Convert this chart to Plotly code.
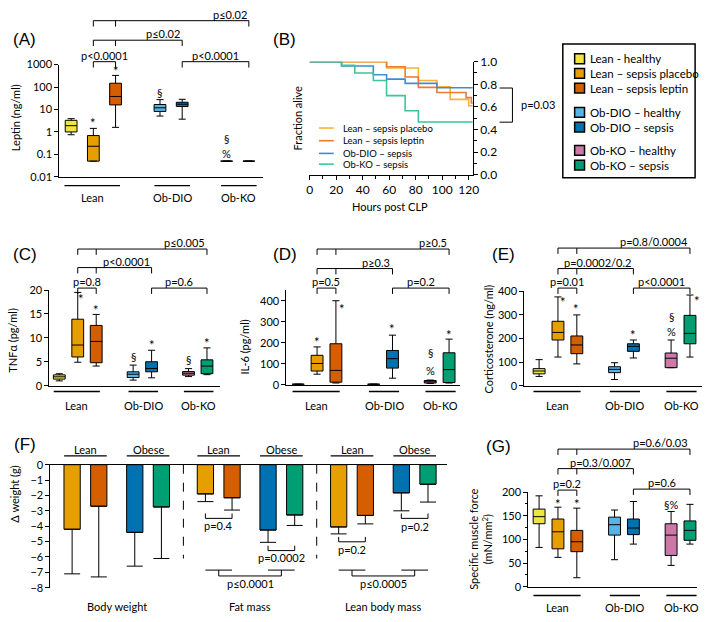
import plotly.graph_objects as go

W, H = 709, 622
FONT = "Lato, 'Open Sans', sans-serif"
PFONT = "'Liberation Sans', Arial, sans-serif"

# ---------------- data ----------------
groups = ["Lean - healthy", "Lean – sepsis placebo", "Lean – sepsis leptin",
          "Ob-DIO – healthy", "Ob-DIO – sepsis", "Ob-KO – healthy", "Ob-KO – sepsis"]
group_colors = ["#F0E442", "#E69F00", "#D55E00", "#56B4E9", "#0072B2", "#CC79A7", "#009E73"]
positions = [0, 1, 2, 4, 5, 7, 8]
cohorts = ["Lean", "Ob-DIO", "Ob-KO"]

# (A) Leptin (ng/ml)
leptin_q1 = [1.0, 0.05, 16.0, 8.2, 13.6, 0.05, 0.05]
leptin_med = [1.9, 0.23, 38.0, 11.9, 17.2, 0.05, 0.05]
leptin_q3 = [3.3, 0.69, 148.0, 16.7, 21.0, 0.05, 0.05]
leptin_lo = [0.75, 0.05, 1.6, 5.1, 3.7, 0.05, 0.05]
leptin_hi = [3.9, 1.44, 330.0, 27.5, 28.5, 0.05, 0.05]

# (C) TNFa (pg/ml)
tnf_q1 = [1.37, 6.0, 4.8, 1.7, 2.9, 2.2, 2.5]
tnf_med = [1.85, 8.5, 9.25, 2.4, 3.6, 2.6, 4.1]
tnf_q3 = [2.26, 13.9, 12.6, 2.9, 5.0, 2.95, 5.4]
tnf_lo = [1.0, 4.9, 4.1, 1.16, 1.64, 1.9, 2.3]
tnf_hi = [2.5, 19.5, 14.9, 4.3, 7.4, 3.56, 7.9]

# (D) IL-6 (pg/ml)
il6_q1 = [1, 65, 12, 1, 79, 8, 10]
il6_med = [2, 101, 68, 2, 124, 14, 72]
il6_q3 = [3, 140, 195, 3, 163, 20, 152]
il6_lo = [1, 50, 8, 1, 31, 6, 8]
il6_hi = [3, 180, 400, 3, 236, 22, 217]

# (E) Corticosterone (ng/ml)
cort_q1 = [50, 193, 135, 55, 145, 76, 177]
cort_med = [62, 225, 172, 69, 166, 116, 221]
cort_q3 = [72, 272, 210, 80, 177, 138, 297]
cort_lo = [39, 121, 92, 26, 117, 76, 121]
cort_hi = [110, 375, 299, 97, 193, 193, 383]

# (G) Specific muscle force (mN/mm2)
force_q1 = [133, 80, 74, 109, 110, 66, 98]
force_med = [148, 116, 95, 131, 124, 109, 119]
force_q3 = [164, 143, 119, 147, 143, 133, 139]
force_lo = [83, 62, 19, 57, 90, 45, 90]
force_hi = [192, 168, 166, 162, 180, 159, 174]

# (B) Kaplan-Meier survival
surv_hours_placebo = [0, 58, 82, 96, 106, 120, 123]
surv_placebo = [1.0, 0.944, 0.833, 0.778, 0.667, 0.611, 0.611]
surv_hours_leptin = [0, 58, 72, 82, 96, 118, 122, 123]
surv_leptin = [1.0, 0.955, 0.864, 0.773, 0.727, 0.682, 0.636, 0.636]
surv_hours_dio = [0, 24, 48, 58, 72, 96, 123]
surv_dio = [1.0, 0.962, 0.885, 0.846, 0.808, 0.769, 0.769]
surv_hours_ko = [0, 24, 34, 48, 58, 72, 82, 123]
surv_ko = [1.0, 0.967, 0.9, 0.833, 0.7, 0.567, 0.467, 0.467]
surv_names = ["Lean – sepsis placebo", "Lean – sepsis leptin", "Ob-DIO – sepsis", "Ob-KO – sepsis"]
surv_colors = ["#F5B335", "#EC7A30", "#3C8ED4", "#3EC49C"]

# (F) weight change (g)
f_categories = ["Body weight", "Fat mass", "Lean body mass"]
f_pair_labels = ["Lean", "Obese"]
f_mean = [-4.2, -2.7, -4.4, -2.75, -1.9, -2.15, -4.25, -3.27, -4.05, -3.3, -1.83, -1.27]
f_err = [2.9, 4.6, 2.2, 3.35, 0.5, 0.8, 0.8, 0.68, 0.45, 0.55, 1.17, 1.16]
f_colors = ["#E69F00", "#D55E00", "#0072B2", "#009E73"] * 3
f_pos = [0, 1, 2.35, 3.35, 5, 6, 7.35, 8.35, 10, 11, 12.35, 13.35]

# ---------------- helpers ----------------
def X(p):
    return p / W

def Y(p):
    return 1 - p / H

shapes = []
annotations = []

def text(x, y, s, size=11, xref="paper", yref="paper", xanchor="center", yanchor="middle",
         font=FONT, angle=0):
    annotations.append(dict(x=x, y=y, text=s, xref=xref, yref=yref, xanchor=xanchor,
                            yanchor=yanchor, showarrow=False, textangle=angle,
                            font=dict(family=font, size=size, color="black")))

def line(x0, y0, x1, y1, xref="paper", yref="paper", width=1, dash="solid", color="black"):
    shapes.append(dict(type="line", x0=x0, y0=y0, x1=x1, y1=y1, xref=xref, yref=yref,
                       line=dict(color=color, width=width, dash=dash)))

fig = go.Figure()

def add_boxes(xa, ya, q1, med, q3, lo, hi, width):
    for i in range(len(groups)):
        fig.add_trace(go.Box(x=[positions[i]], q1=[q1[i]], median=[med[i]], q3=[q3[i]],
                             lowerfence=[lo[i]], upperfence=[hi[i]], orientation="v",
                             fillcolor=group_colors[i], line=dict(color="black", width=1),
                             width=width, whiskerwidth=0.6, boxpoints=False,
                             xaxis=xa, yaxis=ya, showlegend=False, hoverinfo="skip",
                             name=groups[i]))

def bracket(xref, ticks, yline, label, align, tick=6):
    x0, x1 = min(ticks), max(ticks)
    line(x0, Y(yline), x1, Y(yline), xref=xref)
    for t in ticks:
        line(t, Y(yline), t, Y(yline + tick), xref=xref)
    if align == "c":
        text((x0 + x1) / 2, Y(yline - 6.5), label, xref=xref)
    else:
        text(x1, Y(yline - 6.5), label, xref=xref, xanchor="right")

cohort_span = [(-0.3, 2.2), (3.75, 5.35), (6.75, 8.35)]

def cohort_labels(xref, yline, ylab):
    for (a, b), name in zip(cohort_span, cohorts):
        line(a, Y(yline), b, Y(yline), xref=xref, width=1.3)
        text((a + b) / 2, Y(ylab), name, xref=xref, size=11)

def marks(xref, yref, items, log=False):
    import math
    for (xp, yv, s) in items:
        yy = math.log10(yv) if log else yv
        text(xp, yy, s, xref=xref, yref=yref, size=13 if s == "*" else 11)

# ---------------- axes layout ----------------
def xdom(a, b):
    return [a / W, b / W]

def ydom(top, bottom):
    return [1 - bottom / H, 1 - top / H]

def xr(a, b, origin, unit):
    return [(a - origin) / unit, (b - origin) / unit]

xbase = dict(showline=True, linecolor="black", linewidth=1, ticks="", showticklabels=False,
             showgrid=False, zeroline=False)
ybase = dict(showline=True, linecolor="black", linewidth=1, ticks="outside", ticklen=4,
             tickcolor="black", tickfont=dict(family=FONT, size=11, color="black"),
             showgrid=False, zeroline=False)

layout_axes = {}
# A
layout_axes["xaxis"] = dict(xbase, domain=xdom(57, 263), range=xr(57, 263, 69, 22.5), anchor="y")
layout_axes["yaxis"] = dict(ybase, domain=ydom(58, 173), type="log", range=[-2, 3], anchor="x",
                            tickvals=[0.01, 0.1, 1, 10, 100, 1000],
                            ticktext=["0.01", "0.1", "1", "10", "100", "1000"])
# B
layout_axes["xaxis2"] = dict(showline=True, linecolor="black", linewidth=1, ticks="outside",
                             ticklen=4, tickcolor="black", showgrid=False, zeroline=False,
                             domain=xdom(310, 476), range=[-0.5, 123.2], anchor="y2",
                             tickvals=[0, 20, 40, 60, 80, 100, 120],
                             tickfont=dict(family=FONT, size=12, color="black"),
                             minor=dict(dtick=10, tick0=0, ticks="outside", ticklen=3, tickcolor="black"))
layout_axes["yaxis2"] = dict(showline=True, linecolor="black", linewidth=1, ticks="outside",
                             ticklen=4, tickcolor="black", showgrid=False, zeroline=False,
                             domain=ydom(55, 171), range=[0, 1], anchor="x2", side="right",
                             tickvals=[0, 0.2, 0.4, 0.6, 0.8, 1.0], tickformat=".1f",
                             tickfont=dict(family=FONT, size=12, color="black"),
                             minor=dict(dtick=0.1, tick0=0, ticks="outside", ticklen=3, tickcolor="black"))
# C
layout_axes["xaxis3"] = dict(xbase, domain=xdom(47, 220), range=xr(47, 220, 57, 18.7), anchor="y3")
layout_axes["yaxis3"] = dict(ybase, domain=ydom(289, 387), range=[0, 20], anchor="x3",
                             tickvals=[0, 5, 10, 15, 20])
# D
layout_axes["xaxis4"] = dict(xbase, domain=xdom(287, 463), range=xr(287, 463, 299, 19.1), anchor="y4")
layout_axes["yaxis4"] = dict(ybase, domain=ydom(289, 386), range=[0, 451], anchor="x4",
                             tickvals=[0, 100, 200, 300, 400])
# E
layout_axes["xaxis5"] = dict(xbase, domain=xdom(528, 708), range=xr(528, 708, 543, 19.1), anchor="y5")
layout_axes["yaxis5"] = dict(ybase, domain=ydom(290, 387), range=[0, 400], anchor="x5",
                             tickvals=[0, 100, 200, 300, 400])
# F
layout_axes["xaxis6"] = dict(xbase, domain=xdom(48, 450), range=xr(48, 450, 70, 27), anchor="y6",
                             side="top")
layout_axes["yaxis6"] = dict(ybase, domain=ydom(468, 594), range=[-8, 0], anchor="x6",
                             tickvals=list(range(-8, 1)))
# G
layout_axes["xaxis7"] = dict(xbase, domain=xdom(532, 703), range=xr(532, 703, 543, 19.1), anchor="y7")
layout_axes["yaxis7"] = dict(ybase, domain=ydom(496, 593), range=[0, 200], anchor="x7",
                             tickvals=[0, 50, 100, 150, 200],
                             minor=dict(dtick=25, tick0=0, ticks="outside", ticklen=2, tickcolor="black"))

# ---------------- (A) ----------------
add_boxes("x", "y", leptin_q1, leptin_med, leptin_q3, leptin_lo, leptin_hi, 0.53)
text(X(22), Y(32), "(A)", size=17, font=PFONT)
text(X(12), Y(112), "Leptin (ng/ml)", size=11, angle=-90)
cohort_labels("x", 182, 194)
marks("x", "y", [(1, 2.4, "*"), (2, 510, "*"), (4, 57, "§"), (7, 0.52, "§"), (7, 0.115, "%")], log=True)
bracket("x", [1, 2], 55, "p<0.0001", "c")
bracket("x", [5, 8], 55, "p<0.0001", "c")
bracket("x", [1, 2, 5], 33, "p≤0.02", "r")
bracket("x", [1, 2, 8], 13, "p≤0.02", "r")

# ---------------- (B) ----------------
for hrs, s, nm, col in zip([surv_hours_placebo, surv_hours_leptin, surv_hours_dio, surv_hours_ko],
                           [surv_placebo, surv_leptin, surv_dio, surv_ko], surv_names, surv_colors):
    fig.add_trace(go.Scatter(x=hrs, y=s, mode="lines", line=dict(color=col, width=1.6, shape="hv"),
                             xaxis="x2", yaxis="y2", showlegend=False, hoverinfo="skip", name=nm))
text(X(285), Y(32), "(B)", size=17, font=PFONT)
text(X(298), Y(113), "Fraction alive", size=11, angle=-90)
text(X(392), Y(203), "Hours post CLP", size=11)
for yy, nm, col in zip([123, 136, 149, 160], surv_names, surv_colors):
    line(X(320), Y(yy), X(335), Y(yy), color=col, width=1.6)
    text(X(342), Y(yy), nm, size=9.5, xanchor="left")
# p=0.03 bracket
line(X(503), Y(82), X(516), Y(82))
line(X(503), Y(117), X(516), Y(117))
line(X(516), Y(82), X(516), Y(117))
text(X(523), Y(99), "p=0.03", size=11, xanchor="left")

# right legend
shapes.append(dict(type="rect", x0=X(567), y0=Y(37), x1=X(701), y1=Y(174), xref="paper", yref="paper",
                   line=dict(color="black", width=1.5), fillcolor="rgba(0,0,0,0)"))
for yy, nm, col in zip([52, 67, 82, 107, 122, 146, 161], groups, group_colors):
    shapes.append(dict(type="rect", x0=X(579), y0=Y(yy - 5), x1=X(589), y1=Y(yy + 5),
                       xref="paper", yref="paper", line=dict(color="black", width=1.5), fillcolor=col))
    text(X(593), Y(yy), nm, size=11.5, xanchor="left")

# ---------------- (C) ----------------
add_boxes("x3", "y3", tnf_q1, tnf_med, tnf_q3, tnf_lo, tnf_hi, 0.64)
text(X(22), Y(253), "(C)", size=17, font=PFONT)
text(X(10), Y(340), "TNFα (pg/ml)", size=11, angle=-90)
cohort_labels("x3", 393, 407)
marks("x3", "y3", [(1.2, 18.2, "*"), (2, 15.9, "*"), (4, 6.1, "§"), (5, 8.6, "*"), (7, 5.5, "§"), (8, 9.0, "*")])
bracket("x3", [1, 2], 287, "p=0.8", "c")
bracket("x3", [5, 8], 287, "p=0.6", "c")
bracket("x3", [1, 2, 5], 266, "p<0.0001", "r")
bracket("x3", [1, 2, 8], 247, "p≤0.005", "r")

# ---------------- (D) ----------------
add_boxes("x4", "y4", il6_q1, il6_med, il6_q3, il6_lo, il6_hi, 0.63)
text(X(286), Y(253), "(D)", size=17, font=PFONT)
text(X(245), Y(347), "IL-6 (pg/ml)", size=11, angle=-90)
cohort_labels("x4", 393, 407)
marks("x4", "y4", [(1, 205, "*"), (2.3, 363, "*"), (5, 265, "*"), (7, 152, "§"), (7, 68, "%"), (8, 237, "*")])
bracket("x4", [1, 2], 287, "p=0.5", "c")
bracket("x4", [5, 8], 287, "p=0.2", "c")
bracket("x4", [1, 2, 5], 267, "p≥0.3", "r")
bracket("x4", [1, 2, 8], 247, "p≥0.5", "r")

# ---------------- (E) ----------------
add_boxes("x5", "y5", cort_q1, cort_med, cort_q3, cort_lo, cort_hi, 0.63)
text(X(507), Y(253), "(E)", size=17, font=PFONT)
text(X(492), Y(339), "Corticosterone (ng/ml)", size=11, angle=-90)
cohort_labels("x5", 393, 407)
marks("x5", "y5", [(1.26, 355, "*"), (1.94, 325, "*"), (5, 214, "*"), (7, 292, "§"), (7, 229, "%"), (8.38, 359, "*")])
bracket("x5", [1, 2], 287, "p=0.01", "c")
bracket("x5", [5, 8], 287, "p<0.0001", "c")
bracket("x5", [1, 2, 5], 267, "p=0.0002/0.2", "r")
bracket("x5", [1, 2, 8], 246, "p=0.8/0.0004", "r")

# ---------------- (F) ----------------
fig.add_trace(go.Bar(x=f_pos, y=f_mean, marker=dict(color=f_colors, line=dict(color="black", width=1)),
                     width=0.61, xaxis="x6", yaxis="y6", showlegend=False, hoverinfo="skip",
                     error_y=dict(type="data", symmetric=False, array=[0] * len(f_err), arrayminus=f_err,
                                  color="black", thickness=1, width=8)))
text(X(22), Y(447), "(F)", size=17, font=PFONT)
text(X(12), Y(498), "Δ weight (g)", size=11, angle=-90)
for k in range(6):
    a, b = f_pos[2 * k], f_pos[2 * k + 1]
    line(a - 0.3, Y(459), b + 0.3, Y(459), xref="x6", width=1.3)
    text((a + b) / 2, Y(452), f_pair_labels[k % 2], xref="x6", size=11)
for c in range(3):
    mid = (f_pos[4 * c] + f_pos[4 * c + 3]) / 2
    text(mid, Y(613), f_categories[c], xref="x6", size=11)
for c in range(2):
    xd = (f_pos[4 * c + 3] + f_pos[4 * c + 4]) / 2
    line(xd, 0, xd, -6.1, xref="x6", yref="y6", dash="dash")

def up_bracket(i, j, yline, label, ytext):
    a, b = f_pos[i], f_pos[j]
    line(a, Y(yline), b, Y(yline), xref="x6")
    line(a, Y(yline), a, Y(yline - 5), xref="x6")
    line(b, Y(yline), b, Y(yline - 5), xref="x6")
    text((a + b) / 2, Y(ytext), label, xref="x6", size=11)

up_bracket(4, 5, 523, "p=0.4", 530)
up_bracket(6, 7, 556, "p=0.0002", 563)
up_bracket(8, 9, 547, "p=0.2", 555)
up_bracket(10, 11, 523, "p=0.2", 531)

def combo_bracket(i, j, k, l, label):
    a1, a2, b1, b2 = f_pos[i], f_pos[j], f_pos[k], f_pos[l]
    line(a1, Y(576), a2, Y(576), xref="x6")
    line(b1, Y(576), b2, Y(576), xref="x6")
    m1, m2 = (a1 + a2) / 2, (b1 + b2) / 2
    line(m1, Y(576), m1, Y(582), xref="x6")
    line(m2, Y(576), m2, Y(582), xref="x6")
    line(m1, Y(582), m2, Y(582), xref="x6")
    text((m1 + m2) / 2, Y(590), label, xref="x6", size=11)

combo_bracket(4, 5, 6, 7, "p≤0.0001")
combo_bracket(8, 9, 10, 11, "p≤0.0005")

# ---------------- (G) ----------------
add_boxes("x7", "y7", force_q1, force_med, force_q3, force_lo, force_hi, 0.63)
text(X(502), Y(449), "(G)", size=17, font=PFONT)
text(X(484), Y(544), "Specific muscle force<br>(mN/mm<sup>2</sup>)", size=11, angle=-90)
cohort_labels("x7", 602, 614)
marks("x7", "y7", [(1, 175, "*"), (2, 175, "*"), (7, 173, "§%")])
bracket("x7", [1, 2], 494, "p=0.2", "c")
bracket("x7", [5, 8], 493, "p=0.6", "c")
bracket("x7", [1, 2, 5], 472, "p=0.3/0.007", "r")
bracket("x7", [1, 2, 8], 452, "p=0.6/0.03", "r")

fig.update_layout(width=W, height=H, margin=dict(l=0, r=0, t=0, b=0), plot_bgcolor="white",
                  paper_bgcolor="white", shapes=shapes, annotations=annotations, boxmode="overlay",
                  font=dict(family=FONT, size=11, color="black"), **layout_axes)

fig.write_html("out.html", config={"displayModeBar": False},
               post_script="document.body.style.margin='0px';")
